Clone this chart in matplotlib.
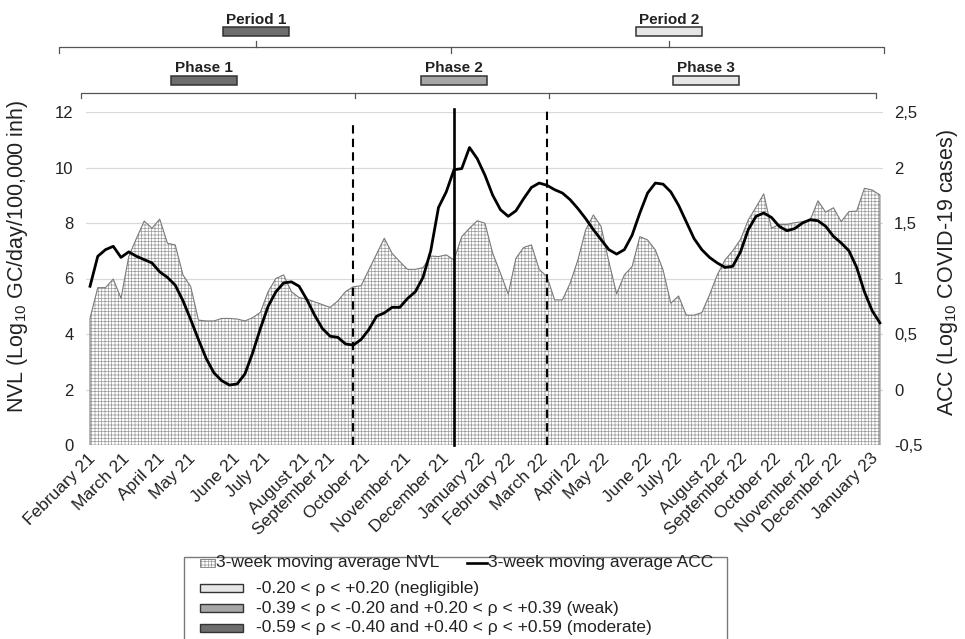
import numpy as np
import matplotlib.pyplot as plt
from matplotlib.patches import Rectangle

plt.rcParams['font.family'] = ['Liberation Sans', 'DejaVu Sans']
plt.rcParams['mathtext.fontset'] = 'custom'
plt.rcParams['mathtext.rm'] = 'Liberation Sans'
plt.rcParams['hatch.linewidth'] = 0.5
plt.rcParams['hatch.color'] = '#9a9a9a'

# weekly 3-week moving averages, Feb 2021 - Jan 2023
nvl = [4.57, 5.67, 5.67, 5.98, 5.29, 6.79, 7.45, 8.07, 7.81, 8.14,
       7.27, 7.21, 6.13, 5.71, 4.50, 4.47, 4.47, 4.56, 4.56, 4.54,
       4.47, 4.59, 4.78, 5.53, 6.00, 6.13, 5.53, 5.31, 5.26, 5.16,
       5.06, 4.96, 5.19, 5.53, 5.70, 5.74, 6.31, 6.88, 7.45, 6.91,
       6.61, 6.33, 6.33, 6.39, 6.81, 6.79, 6.85, 6.67, 7.51, 7.81,
       8.08, 7.99, 6.91, 6.19, 5.44, 6.73, 7.12, 7.21, 6.33, 6.07,
       5.23, 5.23, 5.83, 6.67, 7.75, 8.29, 7.87, 6.61, 5.45, 6.13,
       6.43, 7.51, 7.39, 7.03, 6.31, 5.11, 5.37, 4.68, 4.68, 4.77,
       5.41, 6.13, 6.67, 7.00, 7.41, 8.11, 8.57, 9.05, 7.81, 7.95,
       7.95, 8.01, 8.05, 8.11, 8.80, 8.39, 8.55, 8.05, 8.41, 8.43,
       9.25, 9.19, 9.01]

acc = [0.93, 1.20, 1.26, 1.29, 1.19, 1.24, 1.20, 1.17, 1.14, 1.06,
       1.01, 0.94, 0.80, 0.63, 0.45, 0.28, 0.15, 0.08, 0.04, 0.05,
       0.14, 0.33, 0.55, 0.75, 0.88, 0.96, 0.97, 0.93, 0.81, 0.67,
       0.55, 0.48, 0.47, 0.41, 0.40, 0.45, 0.54, 0.66, 0.69, 0.74,
       0.74, 0.82, 0.88, 1.01, 1.25, 1.64, 1.78, 1.98, 1.99, 2.18,
       2.08, 1.93, 1.75, 1.62, 1.56, 1.61, 1.72, 1.82, 1.86, 1.84,
       1.80, 1.77, 1.71, 1.63, 1.54, 1.44, 1.35, 1.26, 1.22, 1.26,
       1.39, 1.59, 1.77, 1.86, 1.85, 1.78, 1.66, 1.51, 1.36, 1.26,
       1.19, 1.14, 1.10, 1.11, 1.24, 1.44, 1.56, 1.59, 1.55, 1.47,
       1.43, 1.45, 1.50, 1.53, 1.52, 1.47, 1.38, 1.32, 1.25, 1.10,
       0.88, 0.71, 0.60]

month_labels = ['February 21', 'March 21', 'April 21', 'May 21', 'June 21', 'July 21',
                'August 21', 'September 21', 'October 21', 'November 21', 'December 21',
                'January 22', 'February 22', 'March 22', 'April 22', 'May 22', 'June 22',
                'July 22', 'August 22', 'September 22', 'October 22', 'November 22',
                'December 22', 'January 23']
month_pos = [0.4, 4.8, 9.4, 13.3, 19.0, 23.0, 28.1, 31.4, 35.9, 41.1, 46.1, 50.7,
             54.6, 58.7, 63.0, 66.7, 72.3, 76.2, 81.1, 84.6, 88.9, 93.3, 96.8, 101.4]

phase_breaks = [34, 59]
phase_break_tops = [11.6, 12.1]
solid_week = 47

left_ticks = [0, 2, 4, 6, 8, 10, 12]
right_ticks = [-0.5, 0, 0.5, 1, 1.5, 2, 2.5]
right_tick_labels = ['-0,5', '0', '0,5', '1', '1,5', '2', '2,5']

DARK, MID, LIGHT = '#6e6e6e', '#a6a6a6', '#e6e6e6'
TXT = '#222222'

W, H = 965, 639
fig = plt.figure(figsize=(W / 100, H / 100), dpi=100)


def px(x0, y0, x1, y1):
    return [x0 / W, 1 - y1 / H, (x1 - x0) / W, (y1 - y0) / H]


ax = fig.add_axes(px(86, 112, 883, 445))
weeks = np.arange(len(nvl))
ax.fill_between(weeks, 0, nvl, facecolor='white', edgecolor='#9a9a9a',
                hatch='+++++', linewidth=0, zorder=2)
ax.plot(np.r_[0, weeks, weeks[-1]], np.r_[0, nvl, 0], color='#7a7a7a', lw=0.8, zorder=3)
ax.set_xlim(-0.52, 102.4)
ax.set_ylim(0, 12)
ax.set_yticks(left_ticks)
ax.grid(axis='y', color='#d9d9d9', lw=0.9)
ax.set_axisbelow(True)
for s in ax.spines.values():
    s.set_visible(False)
ax.tick_params(axis='y', length=0, pad=9, labelsize=12, labelcolor=TXT)
ax.tick_params(axis='x', length=0, pad=8, labelsize=12.5, labelcolor=TXT)
ax.set_xticks(month_pos)
ax.set_xticklabels(month_labels, rotation=45, ha='right', va='center', rotation_mode='anchor')

ax2 = ax.twinx()
ax2.plot(weeks, acc, color='black', lw=2.0, zorder=4)
ax2.set_ylim(-0.5, 2.5)
ax2.set_yticks(right_ticks)
ax2.set_yticklabels(right_tick_labels)
ax2.tick_params(axis='y', length=0, pad=8, labelsize=12, labelcolor=TXT)
for s in ax2.spines.values():
    s.set_visible(False)

# phase boundaries and the solid marker line (drawn on left scale)
for wk, top in zip(phase_breaks, phase_break_tops):
    ax.plot([wk, wk], [0, top], color='black', lw=1.5, ls=(0, (4, 2.5)), zorder=5, clip_on=False)
ax.plot([solid_week, solid_week], [0, 12.1], color='black', lw=1.9, zorder=5, clip_on=False)

fig.text(18 / W, 1 - 256 / H, r'NVL (Log$_{\mathrm{10}}$ GC/day/100,000 inh)', rotation=90,
         ha='center', va='center', fontsize=15.5, color=TXT)
fig.text(948 / W, 1 - 273 / H, r'ACC (Log$_{\mathrm{10}}$ COVID-19 cases)', rotation=90,
         ha='center', va='center', fontsize=15.5, color=TXT)

# overlay in pixel coordinates for brackets and legend
ov = fig.add_axes([0, 0, 1, 1], facecolor='none')
ov.set_xlim(0, W)
ov.set_ylim(H, 0)
ov.axis('off')

bc = '#555555'
# period bracket
ov.plot([59, 59, 884, 884], [53, 46.5, 46.5, 53], color=bc, lw=0.9)
ov.plot([451, 451], [46.5, 53], color=bc, lw=0.9)
ov.plot([256, 256], [46.5, 41], color=bc, lw=0.9)
ov.plot([669, 669], [46.5, 41], color=bc, lw=0.9)
# phase bracket
ov.plot([80.5, 80.5, 875.5, 875.5], [97.5, 92.5, 92.5, 97.5], color=bc, lw=0.9)
for x in [354.5, 549]:
    ov.plot([x, x], [92.5, 97.5], color=bc, lw=0.9)

labels = [('Period 1', 256, 20, 223, 27, DARK), ('Period 2', 669, 20, 636, 27, LIGHT),
          ('Phase 1', 204, 68.5, 171, 76, DARK), ('Phase 2', 454, 68.5, 421, 76, MID),
          ('Phase 3', 706, 68.5, 673, 76, LIGHT)]
for txt, tx, ty, bx, by, col in labels:
    ov.text(tx, ty, txt, ha='center', va='center', fontsize=11, fontweight='bold', color=TXT)
    ov.add_patch(Rectangle((bx, by), 66, 8.5, facecolor=col, edgecolor='#333333', lw=1.1))

# legend
ov.add_patch(Rectangle((183.5, 556.5), 543, 90, facecolor='white', edgecolor='#7a7a7a', lw=1.0,
                       clip_on=False))
ov.add_patch(Rectangle((200, 559), 15, 8, facecolor='white', edgecolor='#9a9a9a', hatch='+++++', lw=0))
ov.add_patch(Rectangle((200, 559), 15, 8, facecolor='none', edgecolor='#7a7a7a', lw=0.6))
ov.text(216, 563, '3-week moving average NVL', ha='left', va='center', fontsize=12.5, color=TXT)
ov.plot([467, 487], [563, 563], color='black', lw=1.9)
ov.text(488, 563, '3-week moving average ACC', ha='left', va='center', fontsize=12.5, color=TXT)

rows = [('-0.20 < ρ < +0.20 (negligible)', 588, LIGHT),
        ('-0.39 < ρ < -0.20 and +0.20 < ρ < +0.39 (weak)', 608, MID),
        ('-0.59 < ρ < -0.40 and +0.40 < ρ < +0.59 (moderate)', 627.5, DARK)]
for txt, y, col in rows:
    ov.add_patch(Rectangle((200, y - 4), 43, 8, facecolor=col, edgecolor='#333333', lw=1.0))
    ov.text(256, y, txt, ha='left', va='center', fontsize=12.5, color=TXT)

fig.savefig('out.png', dpi=100)
